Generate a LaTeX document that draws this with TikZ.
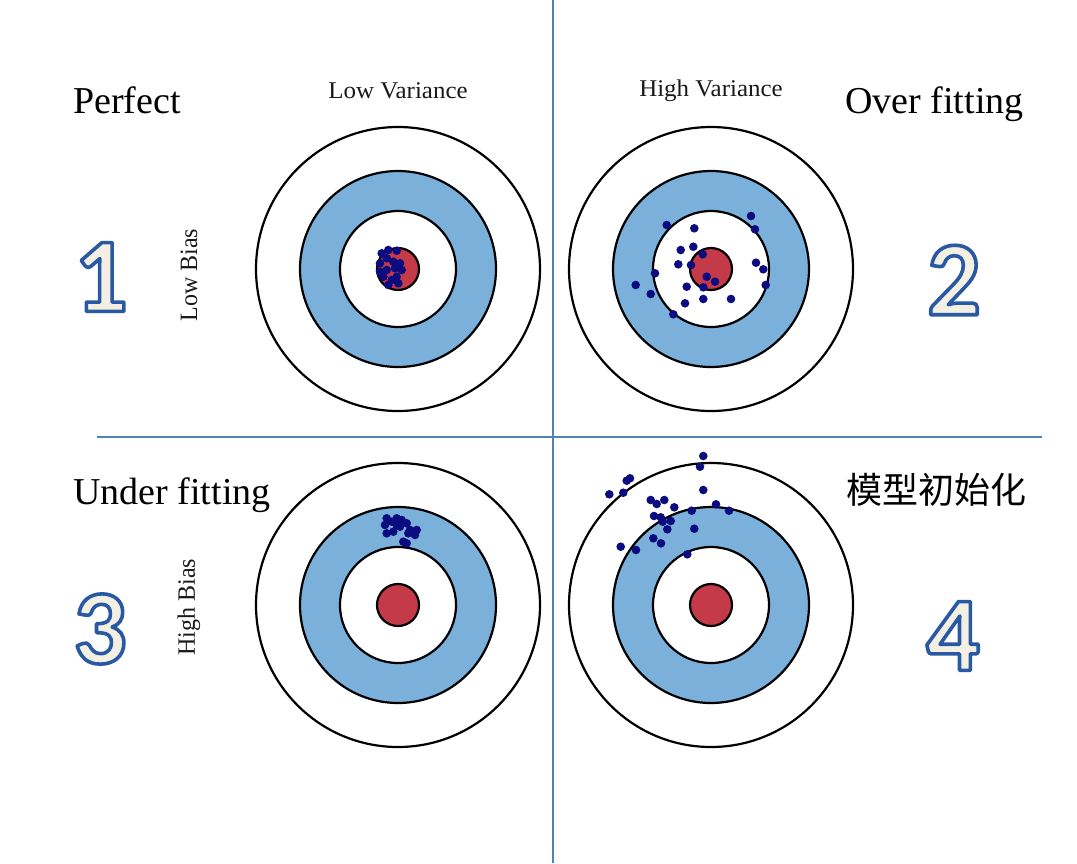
\documentclass[tikz,border=0pt]{standalone}
\usepackage{fontspec}
\setmainfont{Liberation Serif}
\newfontfamily\numfont{Carlito}
\newfontfamily\cjkfont{Noto Sans CJK SC}
\usetikzlibrary{positioning,calc}
\definecolor{ringblue}{RGB}{122,176,218}
\definecolor{bullred}{RGB}{196,58,72}
\definecolor{dotnavy}{RGB}{12,12,128}
\definecolor{lineblue}{RGB}{79,129,189}
\definecolor{numfill}{RGB}{243,240,227}

% outlined big number: cream glyph, blue stroke
\newcommand{\bignum}[3]{%
  \node[numstyle] (#1) at (#2)
    {\special{pdf:code 2 Tr 3.6 w 0.16 0.35 0.64 RG 1 j}#3\special{pdf:code 0 Tr}};
}
% target: rings round a centre
\newcommand{\target}[1]{%
  \draw[ring, fill=white] (#1) circle (142);
  \draw[ring, fill=ringblue] (#1) circle (98);
  \draw[ring, fill=white] (#1) circle (58);
  \draw[ring, fill=bullred] (#1) circle (21);
}

\begin{document}
\begin{tikzpicture}[x=1pt, y=-1pt,
  title/.style={font=\fontsize{38}{38}\selectfont, anchor=base west, inner sep=0pt},
  axis/.style={font=\fontsize{24}{24}\selectfont, inner sep=0pt, text=black!90,
               xscale=1.04},
  numstyle/.style={font=\numfont\bfseries\fontsize{106}{106}\selectfont,
                   text=numfill, inner sep=0pt},
  ring/.style={draw=black, line width=2.2pt},
  shot/.style={fill=dotnavy},
  sep/.style={draw=lineblue, line width=2pt}
]
\useasboundingbox (0,0) rectangle (1077,863);

\coordinate (tl) at (398,269);
\coordinate (tr) at (711,269);
\coordinate (bl) at (398,605);
\coordinate (br) at (711,605);

\target{tl}
\target{tr}
\target{bl}
\target{br}

% shots
\foreach \x/\y in {381.7/253.3, 388.3/250, 396.7/250.7, 380/263.3, 386.7/258.3,
    393.3/261.7, 400/263.3, 401.7/270, 395/268.3, 386.7/270, 380/271.7,
    383.3/276.7, 391.7/280, 396.7/276.7, 388.3/285, 398.3/283.3}
  \fill[shot] (\x,\y) circle (4.3);
\foreach \x/\y in {666.7/225, 694.3/228.3, 751/216, 755/229.3, 680.7/250,
    693.3/246.7, 702.7/254.3, 678.3/264.3, 691/265, 756/262.7, 763.3/269.3,
    655/273.3, 706.7/276.7, 715/281.7, 703.3/287.3, 635.7/285, 686.7/286.7,
    765.7/285, 650.7/294, 703.3/299, 731/299, 685/303.3, 673.3/314.3}
  \fill[shot] (\x,\y) circle (4.3);
\foreach \x/\y in {386.7/518.3, 385/525, 391.7/521.7, 396.7/518.3, 401.7/520,
    406.7/523.3, 410/530, 416.7/530, 415/535, 408.3/533.3, 400/526.7,
    393.3/531.7, 386.7/533.3, 403.3/541.7, 406.7/543.3, 396.7/525}
  \fill[shot] (\x,\y) circle (4.3);
\foreach \x/\y in {703.3/456, 700/466.7, 626.7/480.7, 630/478.3, 609.3/494.3,
    623.3/492.7, 703.3/490, 650.7/500, 656.7/504, 664.3/500, 674.3/507.3,
    691.7/510.7, 716/504.3, 729/510.7, 654/516, 660.7/517.3, 662.7/521.7,
    670.7/521, 667.3/529.3, 694.3/528.7, 653.3/538.3, 661/543.3, 620.7/546.7,
    636/550, 687.3/554.3}
  \fill[shot] (\x,\y) circle (4.3);

% separators
\coordinate (vtop) at (553,0);
\coordinate (vbot) at (553,863);
\coordinate (hleft) at (97,437);
\coordinate (hright) at (1042,437);
\draw[sep] (vtop) -- (vbot);
\draw[sep] (hleft) -- (hright);

% labels
\node[axis] (lowvar) at (398,91) {Low Variance};
\node[axis] (highvar) at (711,91) {High Variance};
\node[axis, rotate=90] (lowbias) at (189,275) {Low Bias};
\node[axis, rotate=90] (highbias) at (189,607) {High Bias};

\node[title] (perfect) at (73,113) {Perfect};
\node[title] (overfit) at (845,113) {Over fitting};
\node[title] (underfit) at (73,504) {Under fitting};
\node[font=\cjkfont\fontsize{36}{36}\selectfont, anchor=west, inner sep=0pt]
  (init) at (846,490) {模型初始化};

\bignum{one}{101,277}{1}
\bignum{two}{954,280}{2}
\bignum{three}{100,629}{3}
\bignum{four}{953,636}{4}
\end{tikzpicture}
\end{document}
